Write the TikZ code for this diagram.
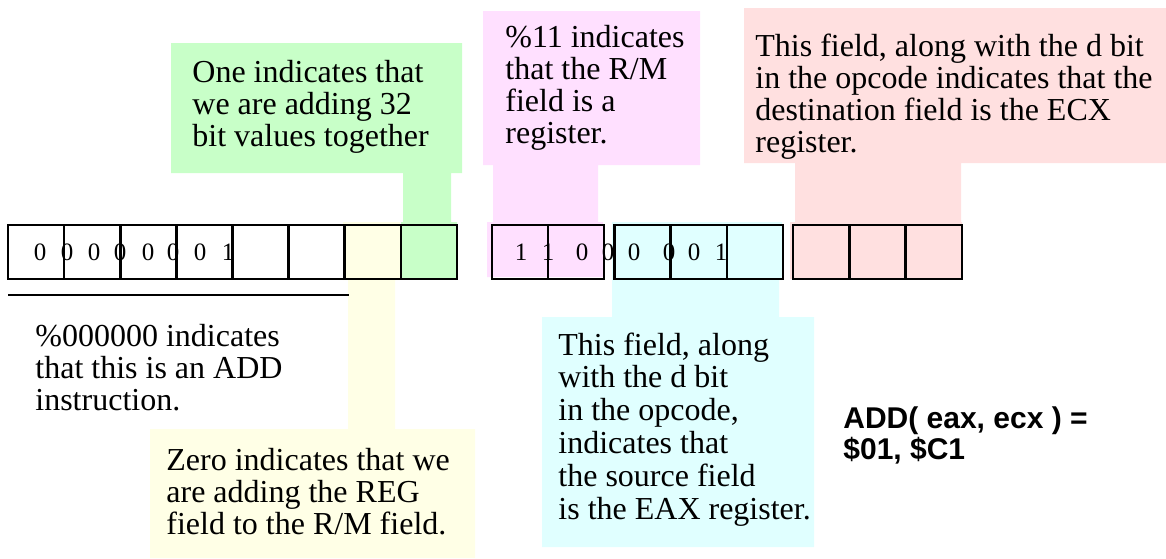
\documentclass[tikz,border=0pt]{standalone}
\usepackage{fontspec}
\setmainfont{Liberation Serif}
\newfontfamily\addsans{Liberation Sans}
\usepackage{tikz}
\usetikzlibrary{positioning}
\definecolor{notegreen}{RGB}{200,255,200}
\definecolor{noteyellow}{RGB}{255,255,230}
\definecolor{notepink}{RGB}{255,224,255}
\definecolor{notecyan}{RGB}{224,255,255}
\definecolor{notered}{RGB}{255,224,224}

\begin{document}
\begin{tikzpicture}[x=0.5pt, y=-0.5pt,
        cell/.style={rectangle, draw=black, line width=1.25pt,
                    minimum width=28pt, minimum height=27pt, inner sep=0pt},
        bit/.style={anchor=base, inner sep=0pt, font=\fontsize{12.5}{12.5}\selectfont},
        note/.style={anchor=base west, align=left, inner sep=0pt,
                    font=\fontsize{16}{16}\selectfont},
        result/.style={anchor=base west, align=left, inner sep=0pt,
                    font=\addsans\bfseries\fontsize{15}{13.5}\selectfont}
      ]
        \useasboundingbox (0,0) rectangle (1166,558);
        % callout backgrounds
        \fill[notegreen]  (171,43) rectangle (462,173) (403,172) rectangle (451,223) (401,222) rectangle (457,279);
        \fill[noteyellow] (343,222) rectangle (400,280) (348,279) rectangle (395,430) (150,429) rectangle (475,558);
        \fill[notepink]   (483,11) rectangle (700,165) (493,164) rectangle (598,223) (487,222) rectangle (603,277);
        \fill[notecyan]   (612,222) rectangle (782,280) (612,279) rectangle (779,318) (542,317) rectangle (814,547);
        \fill[notered]    (744,8) rectangle (1166,163) (795,162) rectangle (961,223) (790,222) rectangle (962,279);

        \foreach \i in {1,...,8}
          \node[cell] (b\i) at ({8+56.125*(\i-0.5)},252) {};
        \foreach \i/\x in {1/520, 2/576, 3/642.5, 4/699, 5/755, 6/821, 7/877.5, 8/934}
          \node[cell] (c\i) at (\x,252) {};

        \foreach \i/\x/\v in {1/40/0, 2/67/0, 3/94/0, 4/120/0, 5/148/0, 6/173/0, 7/200/0, 8/228/1}
          \node[bit] (lb\i) at (\x,260) {\v};
        \foreach \i/\x/\v in {1/521/1, 2/548/1, 3/582/0, 4/608/0, 5/634/0, 6/669/0, 7/694/0, 8/721/1}
          \node[bit] (rb\i) at (\x,260) {\v};

        \draw[line width=1.25pt] (8,295) -- (349,295);

        \node[note] (onenote)  at (192,146) {One indicates that\\we are adding 32\\bit values together};
        \node[note] (modnote)  at (505,143) {\%11 indicates\\that the R/M\\field is a\\register.};
        \node[note] (dstnote)  at (755,152) {This field, along with the d bit\\in the opcode indicates that the\\destination field is the ECX\\register.};
        \node[note] (opnote)   at (35,410)  {\%000000 indicates\\that this is an ADD\\instruction.};
        \node[note] (zeronote) at (166,534) {Zero indicates that we\\are adding the REG\\field to the R/M field.};
        \node[note, font=\fontsize{16}{16.4}\selectfont] (srcnote) at (558,519)
          {This field, along\\with the d bit\\in the opcode,\\indicates that\\the source field\\is the EAX register.};
        \node[result] (addres) at (843,459) {ADD( eax, ecx ) =\\\$01, \$C1};
      \end{tikzpicture}
\end{document}
